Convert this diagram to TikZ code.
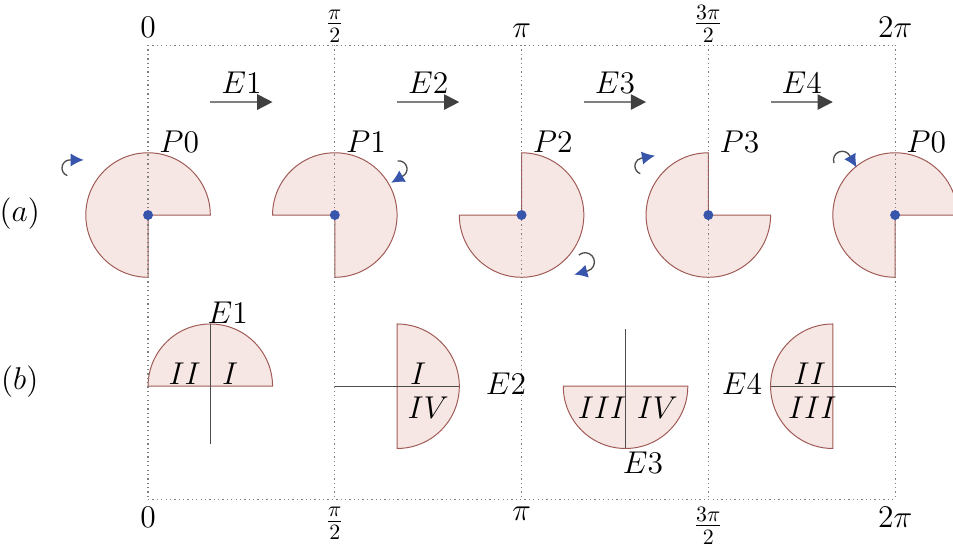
\documentclass[tikz,border=0pt]{standalone}
\usepackage{fontspec}
\usetikzlibrary{arrows.meta}
\definecolor{sectorfill}{RGB}{246,231,228}
\definecolor{sectorline}{RGB}{160,90,85}
\definecolor{dotblue}{RGB}{55,85,170}
\tikzset{
  sector/.style={fill=sectorfill, draw=sectorline, line width=0.45pt},
  gridline/.style={gray, line width=0.5pt, dash pattern=on 0.6pt off 1.4pt},
  axisline/.style={gray!60!black, line width=0.5pt},
  evarrow/.style={gray, line width=0.8pt, -{Triangle[length=7pt,width=7pt,color=black!75]}},
  rotarrow/.style={black!70, line width=0.6pt, -{Latex[length=6pt,width=6pt,color=dotblue]}},
  every node/.style={font=\Large, text=black},
}
\begin{document}
\begin{tikzpicture}
\useasboundingbox (-2.378,-5.317) rectangle (12.93,3.454);

% Fila (a): discos de tres cuartos
\draw[sector] (0,0) -- (1,0) arc[start angle=0, end angle=270, radius=1] -- cycle;
\draw[sector] (3,0) -- (3,-1) arc[start angle=-90, end angle=180, radius=1] -- cycle;
\draw[sector] (6,0) -- (5,0) arc[start angle=180, end angle=450, radius=1] -- cycle;
\draw[sector] (9,0) -- (9,1) arc[start angle=90, end angle=360, radius=1] -- cycle;
\draw[sector] (12,0) -- (13,0) arc[start angle=0, end angle=270, radius=1] -- cycle;

% Fila (b): semidiscos
\draw[sector] (2,-2.75) arc[start angle=0, end angle=180, radius=1] -- cycle;
\draw[axisline] (1,-1.75) -- (1,-3.67);
\draw[sector] (4,-3.75) arc[start angle=-90, end angle=90, radius=1] -- cycle;
\draw[axisline] (3,-2.75) -- (5,-2.75);
\draw[sector] (6.67,-2.75) arc[start angle=180, end angle=360, radius=1] -- cycle;
\draw[axisline] (7.67,-1.83) -- (7.67,-3.75);
\draw[sector] (11,-1.75) arc[start angle=90, end angle=270, radius=1] -- cycle;
\draw[axisline] (10,-2.75) -- (12,-2.75);

% Rejilla punteada
\draw[gridline] (0,2.73) -- (12,2.73);
\draw[gridline] (0,-4.57) -- (12,-4.57);
\foreach \x in {0,3,6,9,12}
  \draw[gridline] (\x,2.73) -- (\x,-4.57);

% Centros
\foreach \x in {0,3,6,9,12}
  \fill[dotblue] (\x,0) circle (0.08);

% Etiquetas de los ejes
\node[above] (t0) at (0,2.73) {$0$};
\node[above, inner sep=1pt] (t1) at (3,2.73) {$\frac{\pi}{2}$};
\node[above] (t2) at (6,2.73) {$\pi$};
\node[above, inner sep=1pt] (t3) at (9,2.73) {$\frac{3\pi}{2}$};
\node[above] (t4) at (12,2.73) {$2\pi$};
\node[below] (b0) at (0,-4.57) {$0$};
\node[below] (b1) at (3,-4.57) {$\frac{\pi}{2}$};
\node[below] (b2) at (6,-4.57) {$\pi$};
\node[below] (b3) at (9,-4.57) {$\frac{3\pi}{2}$};
\node[below] (b4) at (12,-4.57) {$2\pi$};

% Flechas de los eventos
\coordinate (e1s) at (1,1.815); \coordinate (e1e) at (2,1.815);
\coordinate (e2s) at (4,1.815); \coordinate (e2e) at (5,1.815);
\coordinate (e3s) at (7,1.815); \coordinate (e3e) at (8,1.815);
\coordinate (e4s) at (10,1.815); \coordinate (e4e) at (11,1.815);
\draw[evarrow] (e1s) -- node[above=0pt] (lE1) {$E1$} (e1e);
\draw[evarrow] (e2s) -- node[above=0pt] (lE2) {$E2$} (e2e);
\draw[evarrow] (e3s) -- node[above=0pt] (lE3) {$E3$} (e3e);
\draw[evarrow] (e4s) -- node[above=0pt] (lE4) {$E4$} (e4e);

% Flechas de giro
\coordinate (r0) at (-1.253,0.755);
\coordinate (r1) at (4.03,0.74);
\coordinate (r2) at (7.02,-0.755);
\coordinate (r3) at (7.95,0.787);
\coordinate (r4) at (11.15,0.884);
\draw[rotarrow] ([shift={(-110:0.13)}]r0) arc[start angle=-110, end angle=-270, radius=0.13] -- ++(0:0.22);
\draw[rotarrow] ([shift={(100:0.13)}]r1) arc[start angle=100, end angle=-60, radius=0.13] -- ++(-150:0.22);
\draw[rotarrow] ([shift={(132:0.15)}]r2) arc[start angle=132, end angle=-75, radius=0.15] -- ++(-165:0.22);
\draw[rotarrow] ([shift={(-110:0.13)}]r3) arc[start angle=-110, end angle=-260, radius=0.13] -- ++(10:0.22);
\draw[rotarrow] ([shift={(200:0.14)}]r4) arc[start angle=200, end angle=30, radius=0.14] -- ++(-60:0.22);

% Posiciones
\node (p0) at (0.5,1.17) {$P0$};
\node (p1) at (3.5,1.17) {$P1$};
\node (p2) at (6.5,1.17) {$P2$};
\node (p3) at (9.5,1.17) {$P3$};
\node (p4) at (12.5,1.17) {$P0$};

% Etiquetas de los semidiscos
\node (lb1) at (1.28,-1.57) {$E1$};
\node (lb2) at (5.75,-2.71) {$E2$};
\node (lb3) at (7.95,-3.98) {$E3$};
\node (lb4) at (9.54,-2.71) {$E4$};
\node (q1a) at (0.59,-2.55) {$II$};
\node (q1b) at (1.32,-2.55) {$I$};
\node (q2a) at (4.34,-2.55) {$I$};
\node (q2b) at (4.5,-3.1) {$IV$};
\node (q3a) at (7.29,-3.1) {$III$};
\node (q3b) at (8.18,-3.1) {$IV$};
\node (q4a) at (10.63,-2.55) {$II$};
\node (q4b) at (10.67,-3.1) {$III$};

% Filas
\node (rowa) at (-2.06,0.03) {$(a)$};
\node (rowb) at (-2.06,-2.68) {$(b)$};
\end{tikzpicture}
\end{document}
